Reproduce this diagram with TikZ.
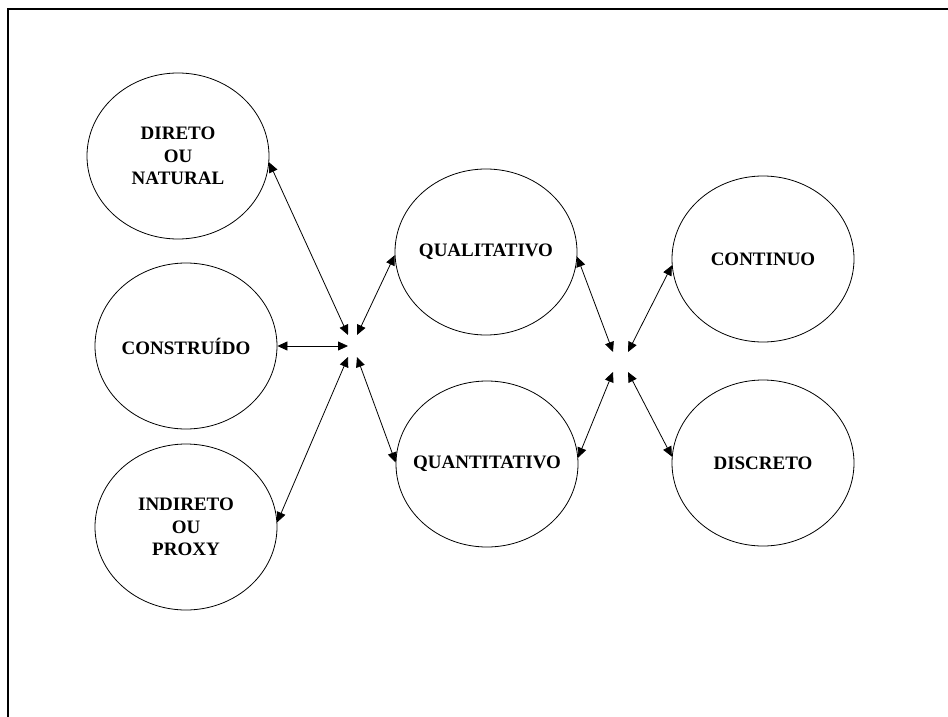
\documentclass[tikz,border=0pt]{standalone}
\usepackage{fontspec}
\setmainfont{Liberation Serif}
\usetikzlibrary{shapes.geometric,arrows.meta}

\begin{document}
\begin{tikzpicture}[x=1pt,y=-1pt,
    oval/.style={draw, ellipse, line width=0.8pt, minimum width=182pt, minimum height=166pt,
        inner xsep=-30pt, inner ysep=0pt, align=center, font=\fontsize{19}{22.5}\selectfont\bfseries},
    link/.style={line width=0.8pt, {Triangle[length=10pt,width=9pt]}-{Triangle[length=10pt,width=9pt]}}]

    % Frame
    \useasboundingbox (0,0) rectangle (948,717);
    \draw[line width=2pt] (8,717) -- (8,9) -- (948,9);

    % Ellipses
    \node[oval] (direto) at (178,156) {DIRETO\\OU\\NATURAL};
    \node[oval] (construido) at (186,346) {CONSTRUÍDO};
    \node[oval] (indireto) at (186,527) {INDIRETO\\OU\\PROXY};
    \node[oval] (quali) at (486,252) {QUALITATIVO};
    \node[oval] (quanti) at (487,464) {QUANTITATIVO};
    \node[oval] (continuo) at (763,259) {CONTINUO};
    \node[oval] (discreto) at (763,463) {DISCRETO};

    % Meeting points
    \coordinate (h1a) at (348,335);
    \coordinate (h1b) at (357,335);
    \coordinate (h1c) at (348,346);
    \coordinate (h1d) at (348,357);
    \coordinate (h1e) at (357,357);
    \coordinate (h2a) at (613,352);
    \coordinate (h2b) at (628,352);
    \coordinate (h2c) at (613,372);
    \coordinate (h2d) at (628,372);

    % Arrows
    \draw[link] (direto.-4) -- (h1a);
    \draw[link] (construido.east) -- (h1c);
    \draw[link] (indireto.3) -- (h1d);
    \draw[link] (quali.182) -- (h1b);
    \draw[link] (quanti.179) -- (h1e);
    \draw[link] (quali.-3) -- (h2a);
    \draw[link] (quanti.4) -- (h2c);
    \draw[link] (continuo.184) -- (h2b);
    \draw[link] (discreto.176) -- (h2d);
\end{tikzpicture}
\end{document}
